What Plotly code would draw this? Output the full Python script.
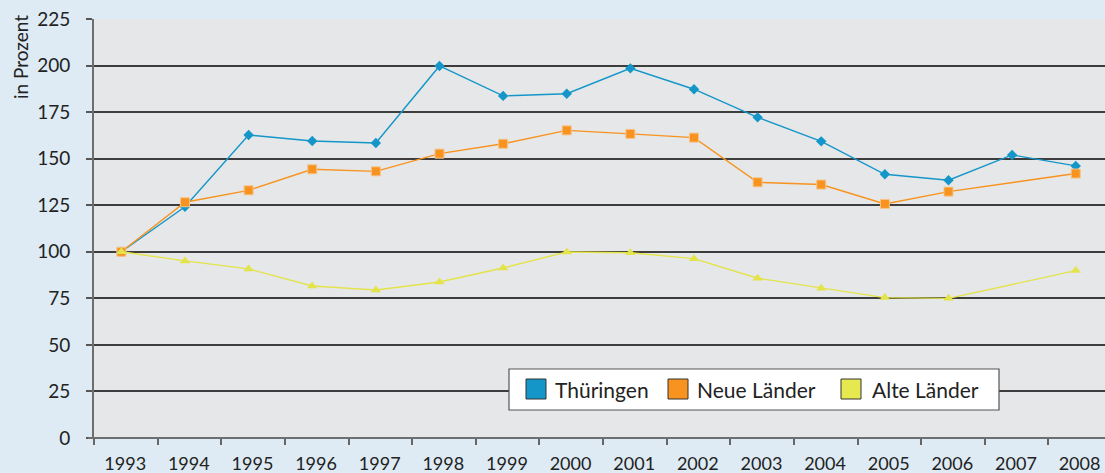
import plotly.graph_objects as go

years = list(range(1993, 2009))
thueringen = [100, 124.2, 162.7, 159.5, 158.4, 199.8, 183.7, 184.9, 198.5, 187.3, 172.2, 159.3, 141.6, 138.4, 152.0, 146.1]
neue_laender = [100, 126.6, 133.0, 144.3, 143.2, 152.7, 158.0, 165.2, 163.3, 161.3, 137.3, 136.1, 125.7, 132.3, None, 142.0]
alte_laender = [100, 95.1, 90.8, 81.6, 79.5, 83.8, 91.3, 99.9, 99.5, 96.3, 85.8, 80.4, 75.4, 75.0, None, 89.9]
series_names = ["Thüringen", "Neue Länder", "Alte Länder"]
y_ticks = list(range(0, 226, 25))

W, H = 1105, 473
L, R, T, B = 94, 0, 19, 35
PW, PH = W - L - R, H - T - B

def px(x):
    return (x - L) / PW

def py(y):
    return (H - B - y) / PH

FONT = "Lato"
blue = "#1496c9"
orange = "#f7931e"
yellow = "#e3e34a"

fig = go.Figure()
fig.add_trace(go.Scatter(x=years, y=thueringen, mode="lines+markers", name=series_names[0],
                         line=dict(color=blue, width=1.4),
                         marker=dict(symbol="diamond", size=8, color=blue), connectgaps=True,
                         showlegend=False))
fig.add_trace(go.Scatter(x=years, y=neue_laender, mode="lines+markers", name=series_names[1],
                         line=dict(color=orange, width=1.4),
                         marker=dict(symbol="square", size=9, color=orange,
                                     line=dict(color="#f6c48a", width=1)), connectgaps=True,
                         showlegend=False))
fig.add_trace(go.Scatter(x=years, y=alte_laender, mode="lines+markers", name=series_names[2],
                         line=dict(color=yellow, width=1.4),
                         marker=dict(symbol="triangle-up", size=9, color=yellow), connectgaps=True,
                         showlegend=False))

boundaries = [y - 0.43 for y in years]

fig.update_layout(
    width=W, height=H,
    margin=dict(l=L, r=R, t=T, b=B, pad=0),
    paper_bgcolor="#deebf4",
    plot_bgcolor="#e6e7e9",
    font=dict(family=FONT, color="#222222"),
    xaxis=dict(
        range=[1992.57, 2008.46],
        tickmode="array",
        tickvals=[y + 0.06 for y in years],
        ticktext=[str(y) for y in years],
        ticks="",
        showgrid=False,
        zeroline=False,
        showline=False,
        tickfont=dict(size=18, family=FONT, color="#222"),
        ticklabelstandoff=13,
        minor=dict(tickmode="array", tickvals=boundaries, ticks="outside", ticklen=6,
                   tickwidth=1.5, tickcolor="#666666", showgrid=False),
        fixedrange=True,
    ),
    yaxis=dict(
        range=[0, 225],
        tickmode="array",
        tickvals=y_ticks,
        ticktext=[str(v) for v in y_ticks],
        ticks="outside",
        ticklen=6,
        tickwidth=1.5,
        tickcolor="#555555",
        showgrid=True,
        gridcolor="#3d3d3d",
        gridwidth=1.5,
        zeroline=False,
        showline=True,
        linecolor="#6e6e6e",
        linewidth=2,
        tickfont=dict(size=19, family=FONT, color="#222"),
        ticklabelstandoff=12,
        fixedrange=True,
    ),
)

# bottom axis line
fig.add_shape(type="line", xref="paper", yref="paper", x0=px(88), x1=1, y0=0, y1=0,
              line=dict(color="#6e6e6e", width=2))

# y-axis title
fig.add_annotation(text="in Prozent", xref="paper", yref="paper", x=px(20), y=py(57),
                   textangle=-90, showarrow=False, xanchor="center", yanchor="middle",
                   font=dict(size=19, family=FONT, color="#222"))

# legend box
fig.add_shape(type="rect", xref="paper", yref="paper", x0=px(509), x1=px(999), y0=py(410), y1=py(369),
              fillcolor="white", line=dict(color="#555555", width=1.2))
swatches = [(526, blue, 553), (668, orange, 695), (841, "#e5e84e", 870)]
for name, (sx, col, tx) in zip(series_names, swatches):
    fig.add_shape(type="rect", xref="paper", yref="paper", x0=px(sx), x1=px(sx + 20),
                  y0=py(399), y1=py(379), fillcolor=col, line=dict(color="#333333", width=1))
    fig.add_annotation(text=name, xref="paper", yref="paper", x=px(tx), y=py(389),
                       showarrow=False, xanchor="left", yanchor="middle",
                       font=dict(size=21, family=FONT, color="#222"))

fig.write_html("out.html", config={"displayModeBar": False},
               post_script="document.body.style.margin='0';document.body.style.background='#deebf4';")
